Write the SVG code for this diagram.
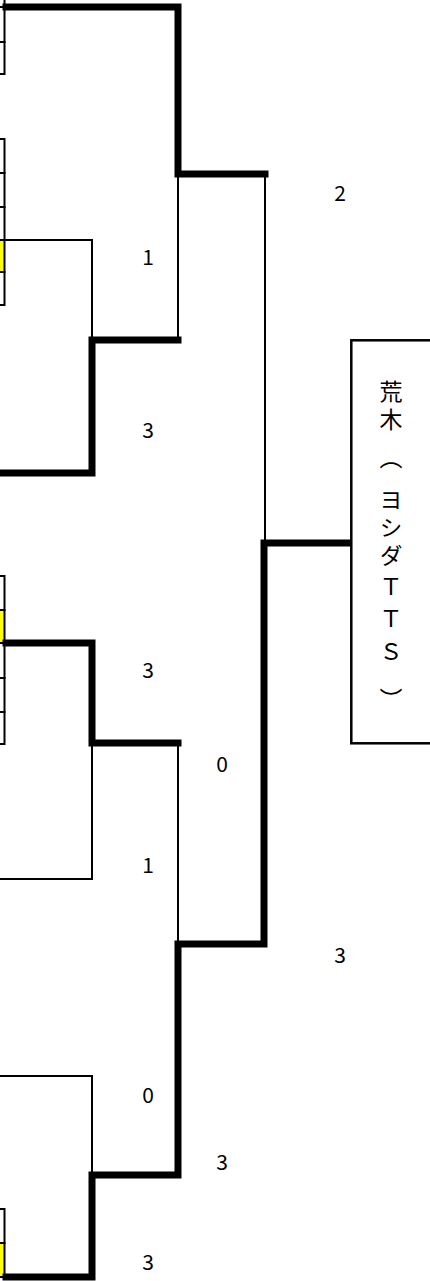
<svg xmlns="http://www.w3.org/2000/svg" width="430" height="1281" viewBox="0 0 430 1281">
<style>
.bg{fill:#fff}
.cell{fill:#fff;stroke:#000;stroke-width:2}
.win{fill:#ffff00;stroke:#000;stroke-width:2}
.thin{fill:none;stroke:#000;stroke-width:2;stroke-linecap:square}
.thick{fill:none;stroke:#000;stroke-width:7;stroke-linecap:square}
.score{font-family:"Noto Sans CJK JP","DejaVu Sans",sans-serif;font-size:21px;fill:#000;text-anchor:middle}
.name{font-family:"Noto Sans CJK JP",sans-serif;font-size:23px;fill:#000}
.box{fill:#fff;stroke:#000;stroke-width:2.5}
</style>
<rect class="bg" x="0" y="0" width="430" height="1281"/>
<g id="entrants-top">
<rect class="cell" x="-20" y="-28" width="24.5" height="35"/>
<rect class="cell" x="-20" y="7" width="24.5" height="35"/>
<rect class="cell" x="-20" y="42" width="24.5" height="32"/>
</g>
<g id="entrants-upper">
<rect class="cell" x="-20" y="139" width="24.5" height="34"/>
<rect class="cell" x="-20" y="173" width="24.5" height="34"/>
<rect class="cell" x="-20" y="207" width="24.5" height="33"/>
<rect class="win" x="-20" y="240" width="24.5" height="32"/>
<rect class="cell" x="-20" y="272" width="24.5" height="33"/>
</g>
<g id="entrants-middle">
<rect class="cell" x="-20" y="576" width="24.5" height="34"/>
<rect class="win" x="-20" y="610" width="24.5" height="33"/>
<rect class="cell" x="-20" y="643" width="24.5" height="35"/>
<rect class="cell" x="-20" y="678" width="24.5" height="34"/>
<rect class="cell" x="-20" y="712" width="24.5" height="32"/>
</g>
<g id="entrants-bottom">
<rect class="cell" x="-20" y="1209" width="24.5" height="34"/>
<rect class="win" x="-20" y="1243" width="24.5" height="34"/>
</g>
<g id="connectors">
<path class="thin" d="M5 240 H92 V340"/>
<path class="thin" d="M178 174 V340"/>
<path class="thin" d="M265 174 V543"/>
<path class="thin" d="M0 879 H92 V743"/>
<path class="thin" d="M178 743 V944"/>
<path class="thin" d="M0 1076 H92 V1175"/>
<path class="thick" d="M6 7 H178 V174 H265"/>
<path class="thick" d="M0 473 H92 V340 H178"/>
<path class="thick" d="M6 643 H92 V743 H178"/>
<path class="thick" d="M6 1277 H92 V1175 H178 V944 H264 V543 H351"/>
</g>
<g id="champion">
<rect class="box" x="351.3" y="340.3" width="100" height="403"/>
<text class="name" writing-mode="vertical-rl" x="391" y="379.5 407.5 446 487.5 515.5 543.5 575.5 607.5 640.5 688">荒木（ヨシダＴＴＳ）</text>
</g>
<g id="scores">
<text class="score" x="340" y="200.5">2</text>
<text class="score" x="148" y="264.5">1</text>
<text class="score" x="148" y="437.5">3</text>
<text class="score" x="148" y="677.5">3</text>
<text class="score" x="222" y="771.5">0</text>
<text class="score" x="148" y="872.5">1</text>
<text class="score" x="340" y="962.5">3</text>
<text class="score" x="148" y="1102.5">0</text>
<text class="score" x="222" y="1169.5">3</text>
<text class="score" x="148" y="1269.5">3</text>
</g>
</svg>
